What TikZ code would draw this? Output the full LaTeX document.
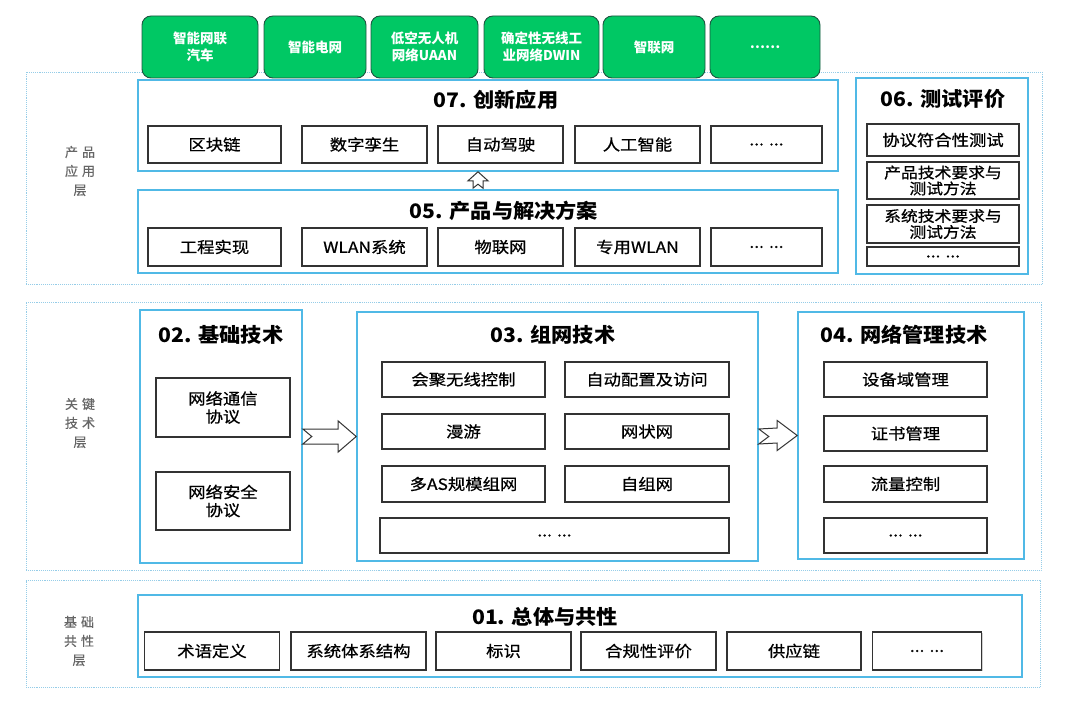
\documentclass[tikz,border=0pt]{standalone}
\usepackage{fontspec}
\setmainfont{Noto Sans CJK SC}
\newfontfamily\itemf{Noto Sans CJK SC}[FakeStretch=1.12,FakeBold=0.7]
\newfontfamily\titlef{Noto Sans CJK SC}[FakeStretch=1.06]
\newfontfamily\sidef{Noto Sans CJK SC}[FakeBold=0.4]
\usetikzlibrary{calc,shadows}
\definecolor{layerblue}{RGB}{150,205,232}
\definecolor{boxblue}{RGB}{80,185,230}
\definecolor{gfill}{RGB}{0,200,100}
\definecolor{gborder}{RGB}{30,85,65}
\tikzset{
  layer/.style={draw=layerblue, densely dotted, line width=0.9pt, inner sep=0pt},
  bluebox/.style={draw=boxblue, line width=1.6pt, fill=white, inner sep=0pt},
  itembox/.style={draw=black!80, line width=1.3pt, fill=white, inner sep=0pt,
    drop shadow={shadow xshift=1pt, shadow yshift=-1pt, fill=black!30, opacity=0.6},
    font=\itemf\fontsize{15.5}{17}\selectfont, align=center},
  greenbox/.style={draw=gborder, fill=gfill, rounded corners=9pt, line width=0.9pt,
    text=white, font=\bfseries\fontsize{13.5}{17}\selectfont, align=center, inner sep=0pt},
  titletext/.style={font=\titlef\bfseries\fontsize{20}{22}\selectfont, inner sep=0pt},
  sidelabel/.style={text=black!60, font=\sidef\fontsize{13}{19}\selectfont, align=center, inner sep=0pt},
  hollow/.style={draw=black!80, fill=white, line width=1pt, line join=miter}
}
\begin{document}
\begin{tikzpicture}[x=1pt,y=-1pt]
\useasboundingbox[fill=white] (0,0) rectangle (1069,701);

% layers
\node[layer, minimum width=1016, minimum height=212] (L1) at (534,178) {};
\node[layer, minimum width=1015, minimum height=268] (L2) at (533.5,436) {};
\node[layer, minimum width=1014, minimum height=107] (L3) at (533,633.5) {};

\node[sidelabel] (lab1) at (80,171) {产\hspace{4pt}品\\应\hspace{4pt}用\\层};
\node[sidelabel] (lab2) at (80,423) {关\hspace{4pt}键\\技\hspace{4pt}术\\层};
\node[sidelabel] (lab3) at (79,641) {基\hspace{4pt}础\\共\hspace{4pt}性\\层};

% green application boxes
\node[greenbox, minimum width=116, minimum height=62] (g1) at (200,47) {智能网联\\汽车};
\node[greenbox, minimum width=102, minimum height=62] (g2) at (315,47) {智能电网};
\node[greenbox, minimum width=107, minimum height=62] (g3) at (424.5,47) {低空无人机\\网络UAAN};
\node[greenbox, minimum width=115, minimum height=62] (g4) at (541.5,47) {确定性无线工\\业网络DWIN};
\node[greenbox, minimum width=102, minimum height=62] (g5) at (654,47) {智联网};
\node[greenbox, minimum width=110, minimum height=62] (g6) at (765,47) {……};

% 07
\node[bluebox, minimum width=700, minimum height=91] (b07) at (488,125.5) {};
\node[titletext] (t07) at (496,100) {07. 创新应用};
\node[itembox, minimum width=133, minimum height=37] (i71) at (214.5,144.5) {区块链};
\node[itembox, minimum width=125, minimum height=37] (i72) at (364.5,144.5) {数字孪生};
\node[itembox, minimum width=125, minimum height=37] (i73) at (500.5,144.5) {自动驾驶};
\node[itembox, minimum width=125, minimum height=37] (i74) at (637.5,144.5) {人工智能};
\node[itembox, minimum width=111, minimum height=37] (i75) at (766.5,144.5) {... ...};

% 05
\node[bluebox, minimum width=700, minimum height=83] (b05) at (488,231.5) {};
\node[titletext] (t05) at (504,211) {05. 产品与解决方案};
\node[itembox, minimum width=133, minimum height=38] (i51) at (214.5,247) {工程实现};
\node[itembox, minimum width=125, minimum height=38] (i52) at (364.5,247) {WLAN系统};
\node[itembox, minimum width=125, minimum height=38] (i53) at (500.5,247) {物联网};
\node[itembox, minimum width=125, minimum height=38] (i54) at (637.5,247) {专用WLAN};
\node[itembox, minimum width=111, minimum height=38] (i55) at (766.5,247) {... ...};

% up arrow 05 -> 07
\draw[hollow] ($(b07.south)+(-10,0)$) -- ++(10,9) -- ++(-5,0) -- ($(b05.north)+(-5,-1)$)
  -- ($(b05.north)+(-10,-5)$) -- ($(b05.north)+(-15,-1)$) -- ($(b07.south)+(-15,9)$)
  -- ($(b07.south)+(-20,9)$) -- cycle;

% 06
\node[bluebox, minimum width=172, minimum height=196] (b06) at (942,176) {};
\node[titletext] (t06) at (943,99) {06. 测试评价};
\node[itembox, minimum width=152, minimum height=32] (i61) at (943,140) {协议符合性测试};
\node[itembox, minimum width=152, minimum height=37, font=\itemf\fontsize{15}{16}\selectfont] (i62) at (943,180.5) {产品技术要求与\\测试方法};
\node[itembox, minimum width=152, minimum height=38, font=\itemf\fontsize{15}{16}\selectfont] (i63) at (943,224) {系统技术要求与\\测试方法};
\node[itembox, minimum width=152, minimum height=19] (i64) at (943,256.5) {... ...};

% 02
\node[bluebox, minimum width=162, minimum height=253] (b02) at (221,436.5) {};
\node[titletext] (t02) at (221,335) {02. 基础技术};
\node[itembox, minimum width=134, minimum height=59, font=\itemf\fontsize{15.5}{18}\selectfont] (i21) at (223,407.5) {网络通信\\协议};
\node[itembox, minimum width=134, minimum height=58, font=\itemf\fontsize{15.5}{18}\selectfont] (i22) at (223,501) {网络安全\\协议};

% 03
\node[bluebox, minimum width=401, minimum height=249] (b03) at (557.5,436.5) {};
\node[titletext] (t03) at (553,335) {03. 组网技术};
\node[itembox, minimum width=163, minimum height=35] (i31) at (463.5,379.5) {会聚无线控制};
\node[itembox, minimum width=163, minimum height=35] (i32) at (463.5,431.5) {漫游};
\node[itembox, minimum width=163, minimum height=36] (i33) at (463.5,484) {多AS规模组网};
\node[itembox, minimum width=164, minimum height=35] (i34) at (647,379.5) {自动配置及访问};
\node[itembox, minimum width=164, minimum height=35] (i35) at (647,431.5) {网状网};
\node[itembox, minimum width=164, minimum height=36] (i36) at (647,484) {自组网};
\node[itembox, minimum width=349, minimum height=35] (i37) at (554.5,535.5) {... ...};

% 04
\node[bluebox, minimum width=226, minimum height=247] (b04) at (911,435.5) {};
\node[titletext] (t04) at (904,335) {04. 网络管理技术};
\node[itembox, minimum width=163, minimum height=35] (i41) at (905.5,379.5) {设备域管理};
\node[itembox, minimum width=163, minimum height=35] (i42) at (905.5,433.5) {证书管理};
\node[itembox, minimum width=163, minimum height=36] (i43) at (905.5,484) {流量控制};
\node[itembox, minimum width=163, minimum height=35] (i44) at (905.5,535.5) {... ...};

% arrows 02 -> 03 -> 04
\draw[hollow] ($(b02.east)+(0,-7.5)$) -- ($(b03.west)+(-18,-7.5)$) -- ($(b03.west)+(-18,-15.5)$)
  -- (b03.west) -- ($(b03.west)+(-18,15.5)$) -- ($(b03.west)+(-18,7.5)$)
  -- ($(b02.east)+(0,7.5)$) -- ($(b02.east)+(9,0)$) -- cycle;
\draw[hollow] ($(b03.east)+(0,-7.5)$) -- ($(b04.west)+(-20,-7.5)$) -- ($(b04.west)+(-20,-15)$)
  -- (b04.west) -- ($(b04.west)+(-20,15)$) -- ($(b04.west)+(-20,7.5)$)
  -- ($(b03.east)+(0,7.5)$) -- ($(b03.east)+(10,0)$) -- cycle;

% 01
\node[bluebox, minimum width=884, minimum height=82] (b01) at (580,636) {};
\node[titletext] (t01) at (545,617) {01. 总体与共性};
\node[itembox, minimum width=134.5, minimum height=38] (i11) at (212,651) {术语定义};
\node[itembox, minimum width=135, minimum height=38] (i12) at (358.5,651) {系统体系结构};
\node[itembox, minimum width=135, minimum height=38] (i13) at (503.5,651) {标识};
\node[itembox, minimum width=135, minimum height=38] (i14) at (648.5,651) {合规性评价};
\node[itembox, minimum width=134, minimum height=38] (i15) at (794,651) {供应链};
\node[itembox, minimum width=109, minimum height=38] (i16) at (927,651) {... ...};
\end{tikzpicture}
\end{document}
